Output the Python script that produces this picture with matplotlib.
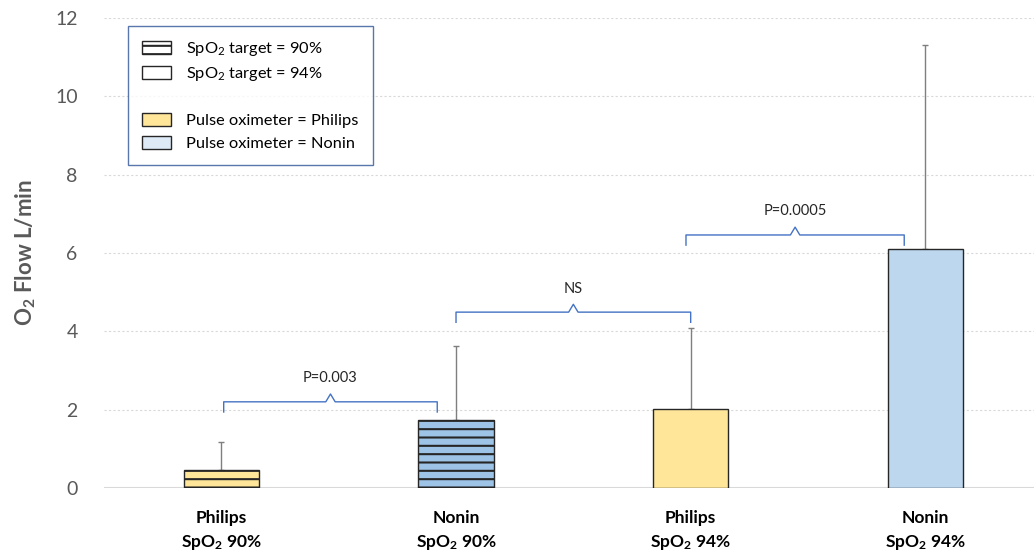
import matplotlib
matplotlib.use("Agg")
import matplotlib.pyplot as plt
from matplotlib.patches import Patch

plt.rcParams['font.family'] = ['Lato', 'DejaVu Sans']
plt.rcParams['mathtext.fontset'] = 'custom'
plt.rcParams['mathtext.rm'] = 'Lato'
plt.rcParams['mathtext.bf'] = 'Lato:bold'
plt.rcParams['mathtext.it'] = 'Lato:italic'
plt.rcParams['hatch.linewidth'] = 1.5

# data
devices = ['Philips', 'Nonin', 'Philips', 'Nonin']
targets = ['90%', '90%', '94%', '94%']
flow_mean = [0.45, 1.74, 2.02, 6.1]
flow_sd = [0.72, 1.88, 2.06, 5.2]
bar_colors = ['#FFE699', '#9DC3E6', '#FFE699', '#BDD7EE']
bar_hatch = ['--', '--', '', '']

# significance brackets: (x start, x end, y level, label)
brackets = [(0.01, 0.92, 2.2, 'P=0.003'),
            (1.0, 2.0, 4.49, 'NS'),
            (1.98, 2.91, 6.46, 'P=0.0005')]

fig = plt.figure(figsize=(10.34, 5.57), dpi=100)
ax = fig.add_axes([0.1006, 0.1239, 0.8994, 0.8438])

x = list(range(len(devices)))
ax.bar(x, flow_mean, width=0.32, color=bar_colors, hatch=bar_hatch,
       edgecolor='#262626', linewidth=1.0, zorder=3)
ax.errorbar(x, flow_mean, yerr=[[0] * len(x), flow_sd], fmt='none',
            ecolor='#7F7F7F', elinewidth=1.0, capsize=2, capthick=1.0, zorder=2)

# brackets
for x0, x1, y, lab in brackets:
    xm = (x0 + x1) / 2
    drop = 0.26
    ax.plot([x0, x0, xm - 0.02, xm, xm + 0.02, x1, x1],
            [y - drop, y, y, y + 0.2, y, y, y - drop],
            color='#4472C4', lw=1.0, zorder=4, solid_joinstyle='round')
    ax.text(xm, y + 0.6, lab, ha='center', va='center', fontsize=10.5, color='#262626')

ax.set_xlim(-0.5, 3.463)
ax.set_ylim(0, 12)
ax.set_yticks(range(0, 13, 2))
ax.tick_params(axis='y', length=0, labelsize=14, labelcolor='#595959', pad=19)
ax.tick_params(axis='x', length=0, pad=16)
ax.set_xticks(x)
ax.set_xticklabels([f'{d}\nSpO$_\\mathbf{{2}}$ {t}' for d, t in zip(devices, targets)],
                   fontsize=12.5, fontweight='bold', color='black', linespacing=1.45)
for s in ax.spines.values():
    s.set_visible(False)
for yv in range(2, 13, 2):
    ax.axhline(yv, color='#D9D9D9', lw=0.8, ls=(0, (2, 2)), zorder=0)
ax.axhline(0, color='#D9D9D9', lw=1.5, zorder=1)

ax.set_ylabel('O$_\\mathbf{2}$ Flow L/min', fontsize=16, fontweight='bold', color='#595959', labelpad=12)

handles = [Patch(facecolor='white', edgecolor='#262626', hatch='--'),
           Patch(facecolor='white', edgecolor='#262626'),
           Patch(facecolor='none', edgecolor='none'),
           Patch(facecolor='#FFE699', edgecolor='#262626'),
           Patch(facecolor='#DEEBF7', edgecolor='#262626')]
labels = ['SpO$_2$ target = 90%', 'SpO$_2$ target = 94%', '',
          'Pulse oximeter = Philips', 'Pulse oximeter = Nonin']
leg = ax.legend(handles, labels, loc='upper left', bbox_to_anchor=(0.026, 0.983),
                fontsize=11.8, frameon=True, fancybox=False, handlelength=1.75,
                handleheight=0.85, handletextpad=0.95, borderpad=0.85, labelspacing=0.45,
                borderaxespad=0)
leg.get_frame().set_edgecolor('#2F5597')
leg.get_frame().set_linewidth(1.0)

fig.savefig('out.png', dpi=100)
